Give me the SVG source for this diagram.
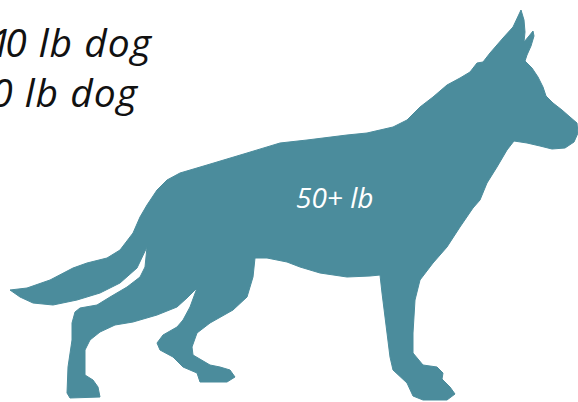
<svg xmlns="http://www.w3.org/2000/svg" width="578" height="402" viewBox="0 0 578 402">
<style>
.lbl{font-family:"Open Sans","DejaVu Sans",sans-serif;font-style:italic;}
.dark{fill:#111111;font-size:39px;letter-spacing:1px;}
.light{fill:#ffffff;font-size:28px;}
.dogfill{fill:#4b8c9c;stroke:#4b8c9c;stroke-width:1;stroke-linejoin:round;}
</style>
<rect width="578" height="402" fill="#ffffff"/>
<g id="legend">
<text class="lbl dark" x="152" y="57" text-anchor="end">1<tspan dx="-7">0 lb dog</tspan></text>
<text class="lbl dark" x="138" y="107" text-anchor="end">0 lb dog</text>
</g>
<g id="dog">
<path class="dogfill" d="M521,10 L524,20 L525,32 L524,42 L529,36 L533,31 L534,36 L531,46 L527,55 L525,61 L532,68 L538,77 L543,87 L546,96 L553,103 L562,110 L570,117 L577,123 L578,133 L574,142 L565,148 L552,149 L540,146 L527,143 L514,141 L507,150 L497,167 L487,183 L480,200 L473,208 L460,227 L447,247 L433,263 L420,280 L415,300 L413,333 L413,353 L423,365 L437,367 L443,373 L442,379 L450,387 L455,394 L447,400 L423,400 L413,396 L407,383 L393,370 L390,357 L387,333 L382,293 L380,275 L370,276 L347,277 L320,273 L300,267 L287,262 L267,258 L255,258 L253,277 L247,297 L233,310 L210,323 L197,333 L192,347 L193,355 L210,365 L220,367 L230,370 L235,377 L227,382 L200,382 L197,373 L183,367 L173,357 L160,350 L157,343 L163,335 L177,327 L183,320 L190,307 L197,288 L187,298 L177,307 L157,315 L133,322 L115,325 L100,332 L90,340 L85,350 L85,375 L93,380 L98,387 L100,397 L70,398 L67,393 L68,367 L72,340 L72,323 L75,312 L80,308 L97,305 L110,297 L127,287 L140,277 L145,267 L147,247 L137,268 L120,283 L100,293 L77,300 L53,305 L33,303 L20,297 L10,290 L27,288 L50,280 L73,268 L87,263 L107,258 L120,250 L133,233 L140,217 L147,205 L157,190 L167,180 L180,173 L207,165 L247,153 L280,143 L307,140 L347,135 L367,133 L393,127 L407,120 L420,107 L433,97 L447,85 L460,78 L470,72 L477,63 L483,62 L490,53 L503,38 L513,27 Z"/>
<text class="lbl light" x="296" y="208">50+ lb</text>
</g>
</svg>
